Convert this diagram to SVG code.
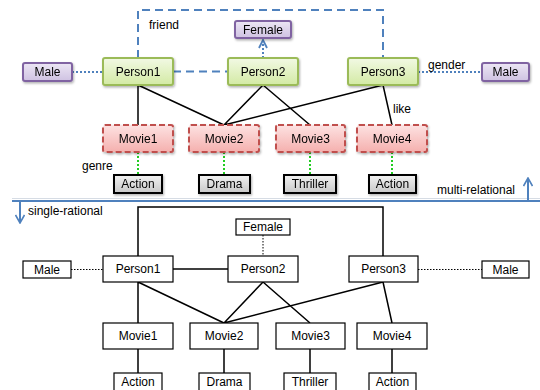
<svg xmlns="http://www.w3.org/2000/svg" width="540" height="390" viewBox="0 0 540 390">
<style>
text{font-family:"Liberation Sans",Arial,sans-serif;font-size:12px;fill:#000;}
.c{text-anchor:middle;dominant-baseline:central;}
.lbl{font-size:12px;dominant-baseline:central;}
.person{fill:url(#gGreen);stroke:#9bbb59;stroke-width:2;}
.attr{fill:url(#gPurple);stroke:#8064a2;stroke-width:2;}
.movie{fill:url(#gRed);stroke:#c0504d;stroke-width:2;stroke-dasharray:6,3;}
.genre{fill:url(#gGray);stroke:#000;stroke-width:2;}
.plain{fill:#fff;stroke:#000;stroke-width:1.2;}
.edge{stroke:#000;stroke-width:1.5;fill:none;}
.friend{stroke:#4f81bd;stroke-width:2;stroke-dasharray:8,5;fill:none;}
.gender{stroke:#4f81bd;stroke-width:2;stroke-dasharray:2,2;fill:none;}
.genreE{stroke:#22cc22;stroke-width:2;stroke-dasharray:2,2;fill:none;}
.dot{stroke:#000;stroke-width:1;stroke-dasharray:1.5,1.5;fill:none;}
.sep{stroke:#4f81bd;stroke-width:2;fill:none;}
</style>
<defs>
<linearGradient id="gGreen" x1="0" y1="0" x2="0" y2="1"><stop offset="0" stop-color="#f2f9e4"/><stop offset="1" stop-color="#d3eaa4"/></linearGradient>
<linearGradient id="gPurple" x1="0" y1="0" x2="0" y2="1"><stop offset="0" stop-color="#ece6f4"/><stop offset="1" stop-color="#cfc2e2"/></linearGradient>
<linearGradient id="gRed" x1="0" y1="0" x2="0" y2="1"><stop offset="0" stop-color="#fde2e2"/><stop offset="1" stop-color="#f5b0ae"/></linearGradient>
<linearGradient id="gGray" x1="0" y1="0" x2="0" y2="1"><stop offset="0" stop-color="#f2f2f2"/><stop offset="1" stop-color="#c8c8c8"/></linearGradient>
<filter id="sh" x="-20%" y="-20%" width="140%" height="160%"><feDropShadow dx="1" dy="1.5" stdDeviation="1" flood-color="#000" flood-opacity="0.3"/></filter>
<marker id="arrS" viewBox="0 0 10 10" refX="9" refY="5" markerWidth="5" markerHeight="5" orient="auto"><path d="M1,1 L9,5 L1,9" fill="none" stroke="#4f81bd" stroke-width="1.8"/></marker>
<marker id="arrL" viewBox="0 0 10 10" refX="9" refY="5" markerWidth="5" markerHeight="5" orient="auto"><path d="M1,0.5 L9,5 L1,9.5" fill="none" stroke="#4f81bd" stroke-width="1.6"/></marker>
</defs>

<g id="connectors">
<path class="friend" d="M138,58 V10 H383 V58"/>
<path class="friend" d="M173,71.5 H228"/>
<path class="gender" d="M72,72 H103"/>
<path class="gender" d="M418,72 H482"/>
<path class="gender" d="M263,58 V40" marker-end="url(#arrS)"/>
<path class="edge" d="M138,85 V125 M138,85 L224,125 M263,85 L224,125 M263,85 L310,125 M383,85 L224,125 M383,85 L392,125"/>
<path class="genreE" d="M138,152 V175 M224,152 V175 M310,152 V175 M392,152 V175"/>
<line x1="12" y1="198.5" x2="540" y2="198.5" stroke="#d6dce4" stroke-width="1"/>
<path class="sep" d="M12,201 H540"/>
<path class="sep" d="M20,201 V223" marker-end="url(#arrL)"/>
<path class="sep" d="M528,201 V178" marker-end="url(#arrL)"/>
<path class="edge" d="M138,256 V207 H383 V256"/>
<path class="edge" d="M173,269 H228"/>
<path class="dot" d="M71,269.5 H103"/>
<path class="dot" d="M418,269.5 H482"/>
<path class="dot" d="M263,235 V256"/>
<path class="edge" d="M138,282 V323 M138,282 L224,323 M263,282 L224,323 M263,282 L310,323 M383,282 L224,323 M383,282 L392,323"/>
<path class="edge" d="M138,349 V373 M224,349 V373 M310,349 V373 M392,349 V373"/>
</g>

<g id="labels">
<text class="lbl" x="149" y="25">friend</text>
<text class="lbl" x="428" y="65">gender</text>
<text class="lbl" x="393" y="109">like</text>
<text class="lbl" x="82" y="166">genre</text>
<text class="lbl" x="437" y="190">multi-relational</text>
<text class="lbl" x="28" y="211">single-rational</text>
</g>

<g id="t-person1" filter="url(#sh)"><rect class="person" x="103" y="58" width="70" height="27" rx="2"/><text class="c" x="138" y="71.5">Person1</text></g>
<g id="t-person2" filter="url(#sh)"><rect class="person" x="228" y="58" width="70" height="27" rx="2"/><text class="c" x="263" y="71.5">Person2</text></g>
<g id="t-person3" filter="url(#sh)"><rect class="person" x="348" y="58" width="70" height="27" rx="2"/><text class="c" x="383" y="71.5">Person3</text></g>
<g id="t-male1" filter="url(#sh)"><rect class="attr" x="23" y="63" width="49" height="18" rx="2"/><text class="c" x="47.5" y="72">Male</text></g>
<g id="t-male2" filter="url(#sh)"><rect class="attr" x="482" y="63" width="47" height="18" rx="2"/><text class="c" x="505.5" y="72">Male</text></g>
<g id="t-female" filter="url(#sh)"><rect class="attr" x="235" y="21" width="56" height="17" rx="2"/><text class="c" x="263" y="29.5">Female</text></g>
<g id="t-movie1" filter="url(#sh)"><rect class="movie" x="103" y="125" width="70" height="27" rx="2"/><text class="c" x="138" y="138.5">Movie1</text></g>
<g id="t-movie2" filter="url(#sh)"><rect class="movie" x="189" y="125" width="70" height="27" rx="2"/><text class="c" x="224" y="138.5">Movie2</text></g>
<g id="t-movie3" filter="url(#sh)"><rect class="movie" x="276" y="125" width="69" height="27" rx="2"/><text class="c" x="310.5" y="138.5">Movie3</text></g>
<g id="t-movie4" filter="url(#sh)"><rect class="movie" x="357" y="125" width="70" height="27" rx="2"/><text class="c" x="392" y="138.5">Movie4</text></g>
<g id="t-action1" filter="url(#sh)"><rect class="genre" x="114" y="175" width="48" height="18"/><text class="c" x="138" y="184">Action</text></g>
<g id="t-drama" filter="url(#sh)"><rect class="genre" x="199" y="175" width="51" height="18"/><text class="c" x="224.5" y="184">Drama</text></g>
<g id="t-thriller" filter="url(#sh)"><rect class="genre" x="284" y="175" width="52" height="18"/><text class="c" x="310" y="184">Thriller</text></g>
<g id="t-action2" filter="url(#sh)"><rect class="genre" x="369" y="175" width="47" height="18"/><text class="c" x="392.5" y="184">Action</text></g>

<g id="b-person1"><rect class="plain" x="103" y="256" width="70" height="26"/><text class="c" x="138" y="269">Person1</text></g>
<g id="b-person2"><rect class="plain" x="228" y="256" width="70" height="26"/><text class="c" x="263" y="269">Person2</text></g>
<g id="b-person3"><rect class="plain" x="349" y="256" width="69" height="26"/><text class="c" x="383.5" y="269">Person3</text></g>
<g id="b-male1"><rect class="plain" x="23" y="261" width="48" height="17"/><text class="c" x="47" y="269.5">Male</text></g>
<g id="b-male2"><rect class="plain" x="482" y="261" width="47" height="17"/><text class="c" x="505.5" y="269.5">Male</text></g>
<g id="b-female"><rect class="plain" x="236" y="219" width="54" height="16"/><text class="c" x="263" y="227">Female</text></g>
<g id="b-movie1"><rect class="plain" x="103" y="323" width="70" height="26"/><text class="c" x="138" y="336">Movie1</text></g>
<g id="b-movie2"><rect class="plain" x="190" y="323" width="68" height="26"/><text class="c" x="224" y="336">Movie2</text></g>
<g id="b-movie3"><rect class="plain" x="276" y="323" width="69" height="26"/><text class="c" x="310.5" y="336">Movie3</text></g>
<g id="b-movie4"><rect class="plain" x="357" y="323" width="70" height="26"/><text class="c" x="392" y="336">Movie4</text></g>
<g id="b-action1"><rect class="plain" x="114" y="373" width="48" height="18"/><text class="c" x="138" y="382">Action</text></g>
<g id="b-drama"><rect class="plain" x="199" y="373" width="51" height="18"/><text class="c" x="224.5" y="382">Drama</text></g>
<g id="b-thriller"><rect class="plain" x="284" y="373" width="52" height="18"/><text class="c" x="310" y="382">Thriller</text></g>
<g id="b-action2"><rect class="plain" x="369" y="373" width="47" height="18"/><text class="c" x="392.5" y="382">Action</text></g>
</svg>
